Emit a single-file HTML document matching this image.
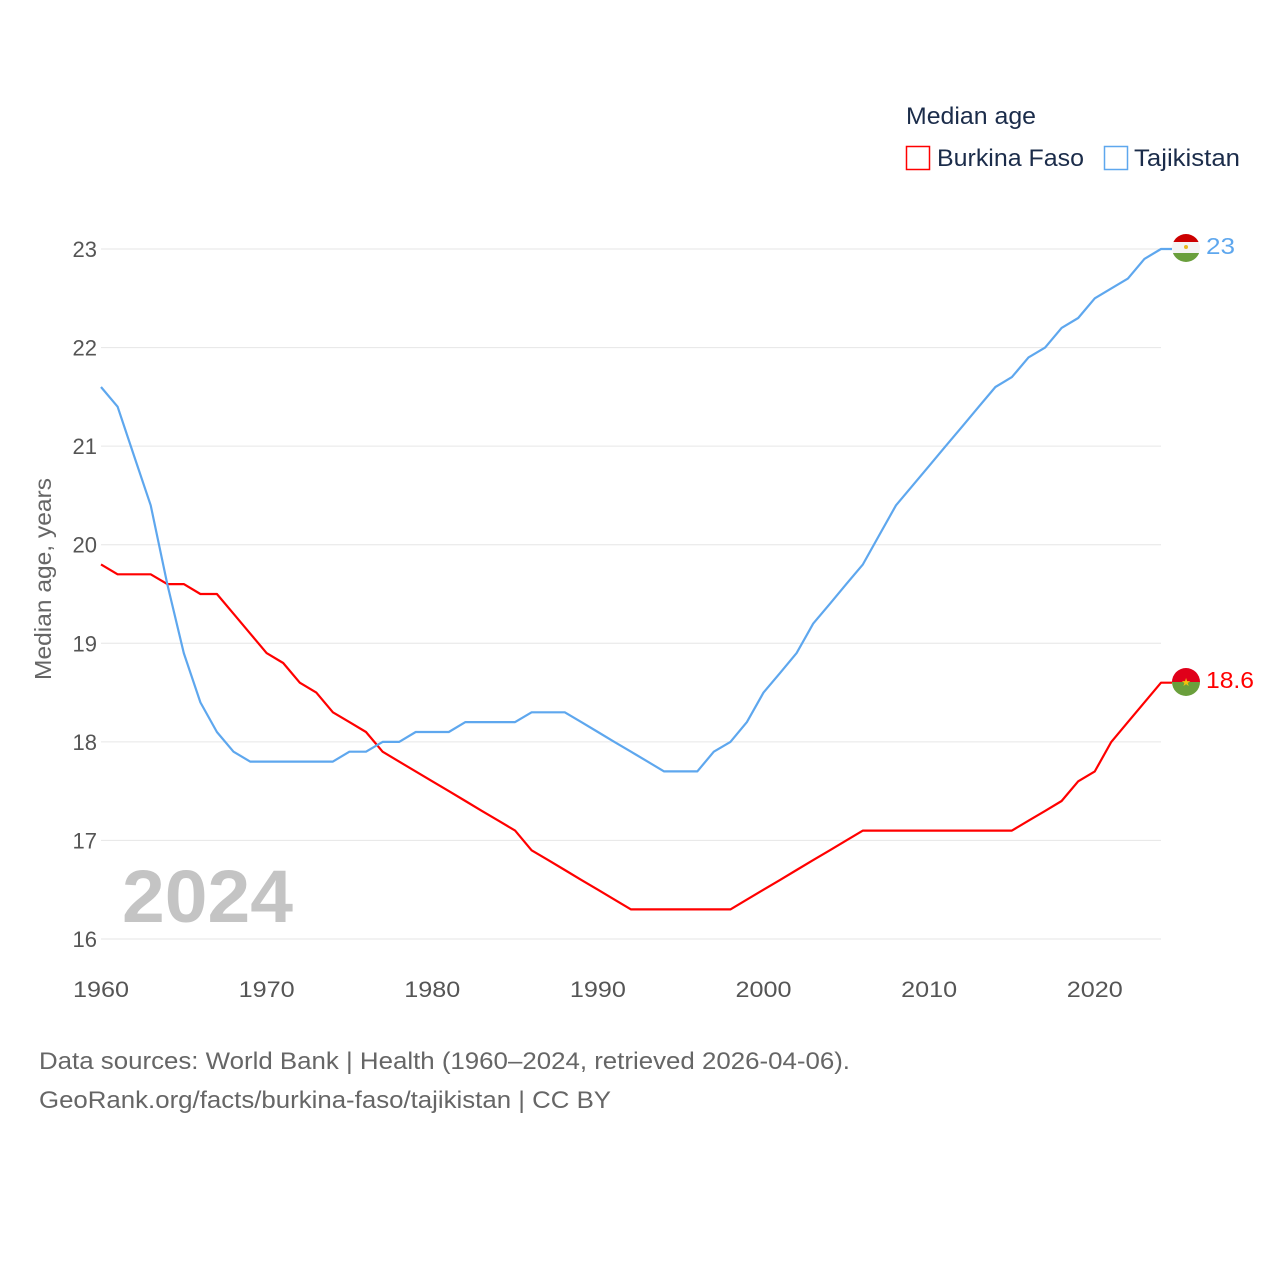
<!DOCTYPE html>
<html><head><meta charset="utf-8"><style>
body{margin:0;background:#fff;font-family:"Liberation Sans",sans-serif}
</style></head><body>
<svg id="chart" width="1280" height="1280" xmlns="http://www.w3.org/2000/svg" style="display:block">
<defs>
<clipPath id="cTj"><circle cx="1186" cy="248" r="14"/></clipPath>
<clipPath id="cBf"><circle cx="1186" cy="682" r="14"/></clipPath>
</defs>
<g id="grid"></g>
<g id="yticks"></g>
<g id="xticks"></g>
<text transform="translate(51,579) rotate(-90)" text-anchor="middle" font-size="23" fill="#666" textLength="202" lengthAdjust="spacingAndGlyphs">Median age, years</text>
<text x="122" y="922" font-size="74" font-weight="bold" fill="#c4c4c4" textLength="171" lengthAdjust="spacingAndGlyphs">2024</text>
<g id="lines"></g>
<g clip-path="url(#cTj)">
<rect x="1172" y="234" width="28" height="8" fill="#cc0000"/><rect x="1172" y="242" width="28" height="11" fill="#f4f4f4"/><rect x="1172" y="253" width="28" height="9" fill="#6a9f3c"/>
<circle cx="1186" cy="247" r="2" fill="#e8b820"/></g>
<g clip-path="url(#cBf)">
<rect x="1172" y="668" width="28" height="14" fill="#e0001a"/><rect x="1172" y="682" width="28" height="14" fill="#6a9f3c"/>
<text x="1186" y="686" font-size="11" text-anchor="middle" fill="#f4c20d">★</text></g>
<text x="1206" y="254" font-size="23" fill="#5ea7ee" textLength="29" lengthAdjust="spacingAndGlyphs">23</text>
<text x="1206" y="688" font-size="23" fill="#ff0000" textLength="48" lengthAdjust="spacingAndGlyphs">18.6</text>
<text x="906" y="124" font-size="24" fill="#1b2c4a" textLength="130" lengthAdjust="spacingAndGlyphs">Median age</text>
<g>
<rect x="906.5" y="146.5" width="23" height="23" fill="none" stroke="#ff0000" stroke-width="1.5"/>
<text x="937" y="166" font-size="24" fill="#1b2c4a" textLength="147" lengthAdjust="spacingAndGlyphs">Burkina Faso</text></g>
<g>
<rect x="1104.5" y="146.5" width="23" height="23" fill="none" stroke="#5ea7ee" stroke-width="1.5"/>
<text x="1134" y="166" font-size="24" fill="#1b2c4a" textLength="106" lengthAdjust="spacingAndGlyphs">Tajikistan</text></g>
<text x="39" y="1069" font-size="24" fill="#666" textLength="811" lengthAdjust="spacingAndGlyphs">Data sources: World Bank | Health (1960–2024, retrieved 2026-04-06).</text>
<text x="39" y="1108" font-size="24" fill="#666" textLength="572" lengthAdjust="spacingAndGlyphs">GeoRank.org/facts/burkina-faso/tajikistan | CC BY</text>
</svg>
<script>
const years=[];for(let y=1960;y<=2024;y++)years.push(y);
const burkina=[19.8,19.7,19.7,19.7,19.6,19.6,19.5,19.5,19.3,19.1,18.9,18.8,18.6,18.5,18.3,18.2,18.1,17.9,17.8,17.7,17.6,17.5,17.4,17.3,17.2,17.1,16.9,16.8,16.7,16.6,16.5,16.4,16.3,16.3,16.3,16.3,16.3,16.3,16.3,16.4,16.5,16.6,16.7,16.8,16.9,17.0,17.1,17.1,17.1,17.1,17.1,17.1,17.1,17.1,17.1,17.1,17.2,17.3,17.4,17.6,17.7,18.0,18.2,18.4,18.6];
const tajik=[21.6,21.4,20.9,20.4,19.6,18.9,18.4,18.1,17.9,17.8,17.8,17.8,17.8,17.8,17.8,17.9,17.9,18.0,18.0,18.1,18.1,18.1,18.2,18.2,18.2,18.2,18.3,18.3,18.3,18.2,18.1,18.0,17.9,17.8,17.7,17.7,17.7,17.9,18.0,18.2,18.5,18.7,18.9,19.2,19.4,19.6,19.8,20.1,20.4,20.6,20.8,21.0,21.2,21.4,21.6,21.7,21.9,22.0,22.2,22.3,22.5,22.6,22.7,22.9,23.0];
const yTicks=[16,17,18,19,20,21,22,23];
const xTicks=[1960,1970,1980,1990,2000,2010,2020];
const NS="http://www.w3.org/2000/svg";
const X=v=>101+(v-1960)*(1161-101)/64;
const Y=v=>939-(v-16)*(939-249)/7;
const mk=(t,a,p)=>{const e=document.createElementNS(NS,t);for(const k in a)e.setAttribute(k,a[k]);p.appendChild(e);return e;};
const g=document.getElementById('grid'),yt=document.getElementById('yticks'),xt=document.getElementById('xticks'),L=document.getElementById('lines');
yTicks.forEach(v=>{
 const l=mk('line',{x1:101,x2:1161,y1:Y(v),y2:Y(v),stroke:'#e6e6e6','stroke-width':1},g);
 
 
 const t=mk('text',{x:97,y:Y(v)+8,'text-anchor':'end','font-size':22,fill:'#555'},yt);t.textContent=v;
 
 
});
xTicks.forEach(v=>{
 const t=mk('text',{x:X(v),y:997,'text-anchor':'middle','font-size':22,fill:'#555',textLength:56,lengthAdjust:'spacingAndGlyphs'},xt);t.textContent=v;
 
 
});
function line(data,color,name){
 let d=data.map((v,i)=>(i?'L':'M')+X(years[i]).toFixed(1)+','+Y(v).toFixed(1)).join('');
 d+='L1172,'+Y(data[data.length-1]).toFixed(1);
 const p=mk('path',{d:d,fill:'none',stroke:color,'stroke-width':2.2,'stroke-linejoin':'round'},L);
 
 
}
line(burkina,'#ff0000','burkina-faso-line');
line(tajik,'#5ea7ee','tajikistan-line');
</script>
</body></html>
